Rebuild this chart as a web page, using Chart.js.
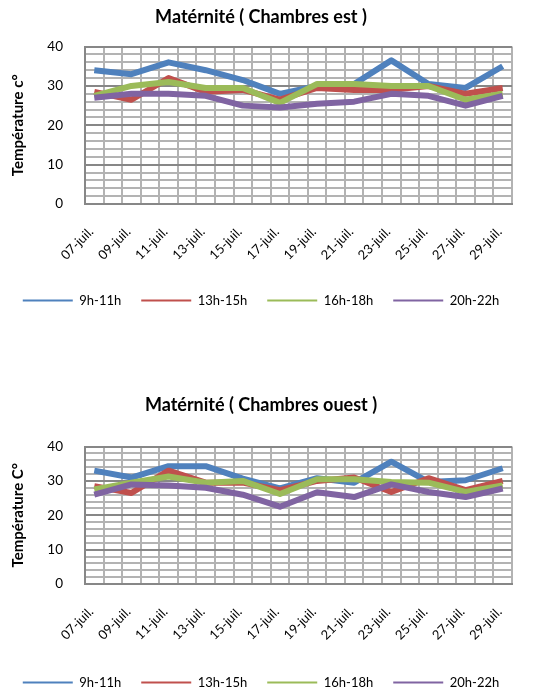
<!DOCTYPE html>
<html>
<head>
<meta charset="utf-8">
<script src="https://cdn.jsdelivr.net/npm/chart.js@4/dist/chart.umd.min.js"></script>
<style>
  html, body { margin: 0; padding: 0; overflow: hidden; background: #fff; width: 534px; height: 693px; }
  .box { position: absolute; left: 0; width: 534px; }
  #b1 { top: 0; height: 317px; }
  #b2 { top: 388px; height: 311px; }
</style>
</head>
<body>
<div class="box" id="b1"><canvas id="c1"></canvas></div>
<div class="box" id="b2"><canvas id="c2"></canvas></div>
<script>
// Every day of the period (one column per day on the date axis)
const allDays = ['07-juil.', '08-juil.', '09-juil.', '10-juil.', '11-juil.', '12-juil.',
  '13-juil.', '14-juil.', '15-juil.', '16-juil.', '17-juil.', '18-juil.', '19-juil.',
  '20-juil.', '21-juil.', '22-juil.', '23-juil.', '24-juil.', '25-juil.', '26-juil.',
  '27-juil.', '28-juil.', '29-juil.'];

// Days on which the temperature was measured (also the labelled ticks)
const measureDays = ['07-juil.', '09-juil.', '11-juil.', '13-juil.', '15-juil.', '17-juil.',
  '19-juil.', '21-juil.', '23-juil.', '25-juil.', '27-juil.', '29-juil.'];

const seriesNames = ['9h-11h', '13h-15h', '16h-18h', '20h-22h'];
const seriesColors = ['#4F81BD', '#C0504D', '#9BBB59', '#8064A2'];

// Labelled values of the temperature axis (a grid line every 2 °C)
const yLabelValues = [0, 10, 20, 30, 40];

// Chambres est
const est9h11h  = [34, 33, 36, 34, 31.5, 28, 30, 30.5, 36.5, 30.5, 29.5, 35];
const est13h15h = [28.5, 26.5, 32, 28.5, 29, 26.5, 29.5, 29, 29, 30, 28, 29.5];
const est16h18h = [27.5, 30, 31, 29.5, 29.5, 25.7, 30.5, 30.5, 30, 30, 26.5, 28];
const est20h22h = [27, 28, 28, 27.5, 25, 24.5, 25.5, 26, 28, 27.5, 25, 27.5];

// Chambres ouest
const ouest9h11h  = [33, 31, 34.3, 34.3, 30.7, 27.8, 30.8, 29.5, 35.6, 29.7, 30.2, 33.7];
const ouest13h15h = [28.5, 26.5, 33, 29.5, 29.5, 27.3, 30, 31, 26.8, 30.8, 27.3, 30];
const ouest16h18h = [27.5, 29.5, 31.3, 29.5, 30, 26.2, 30.5, 30.5, 29.7, 29.5, 26.8, 28.7];
const ouest20h22h = [26, 29, 28.7, 28, 26, 22.5, 26.7, 25.3, 29, 26.8, 25.3, 27.8];

const FONT = 'Lato, "Open Sans", sans-serif';
const MAJOR = '#878787';
const MINOR = '#B3B3B3';

function makeChart(id, title, yTitle, series, geom) {
  const datasets = series.map((vals, i) => ({
    label: seriesNames[i],
    data: vals.map((v, k) => ({ x: measureDays[k], y: v })),
    borderColor: seriesColors[i],
    backgroundColor: seriesColors[i],
    borderWidth: 6,
    pointRadius: 0,
    tension: 0,
    borderJoinStyle: 'round',
    borderCapStyle: 'butt',
    order: series.length - i   // later series drawn on top
  }));

  return new Chart(document.getElementById(id), {
    type: 'line',
    data: { labels: allDays, datasets },
    options: {
      responsive: true,
      maintainAspectRatio: false,
      animation: false,
      layout: { padding: { left: 0, right: 12, top: 0, bottom: 0 } },
      plugins: {
        tooltip: { enabled: false },
        title: {
          display: true,
          text: title,
          color: '#000',
          font: { family: FONT, size: 18, weight: 'bold' },
          padding: { top: 6, bottom: geom.titleGap }
        },
        legend: {
          position: 'bottom',
          labels: {
            color: '#000',
            font: { family: FONT, size: 13 },
            boxWidth: 50,
            boxHeight: 2,
            padding: 20,
            sort: (a, b) => a.datasetIndex - b.datasetIndex,
            generateLabels(chart) {
              const items = Chart.defaults.plugins.legend.labels.generateLabels(chart);
              items.forEach(it => { it.fillStyle = it.strokeStyle; it.lineWidth = 0; });
              return items;
            }
          }
        }
      },
      scales: {
        x: {
          type: 'category',
          offset: true,
          grid: { offset: true, color: MINOR, lineWidth: 2, drawTicks: false },
          border: { display: true, color: MAJOR, width: 2 },
          ticks: {
            autoSkip: false,
            minRotation: 45,
            maxRotation: 45,
            padding: 20,
            labelOffset: -3,
            color: '#000',
            font: { family: FONT, size: 13 },
            callback(value) {
              const lbl = this.getLabelForValue(value);
              return measureDays.includes(lbl) ? lbl : '';
            }
          },
          afterFit(scale) { scale.height = geom.xHeight; }
        },
        y: {
          min: 0,
          max: 40,
          grid: {
            drawTicks: false,
            lineWidth: 2,
            color: ctx => yLabelValues.includes(ctx.tick && ctx.tick.value) ? MAJOR : MINOR
          },
          border: { display: true, color: MAJOR, width: 2 },
          ticks: {
            stepSize: 2,
            autoSkip: false,
            padding: 22,
            color: '#000',
            font: { family: FONT, size: 13.5 },
            callback: v => yLabelValues.includes(v) ? String(v) : ''
          },
          title: {
            display: true,
            text: yTitle,
            color: '#000',
            font: { family: FONT, size: 15, weight: 'bold' },
            padding: { top: 9, bottom: 0 }
          },
          afterFit(scale) { scale.width = 85; }
        }
      }
    }
  });
}

makeChart('c1', 'Matérnité ( Chambres est )', 'Température c°',
  [est9h11h, est13h15h, est16h18h, est20h22h], { titleGap: 19, xHeight: 70 });
makeChart('c2', 'Matérnité ( Chambres ouest )', 'Température C°',
  [ouest9h11h, ouest13h15h, ouest16h18h, ouest20h22h], { titleGap: 31, xHeight: 72 });
</script>
</body>
</html>
